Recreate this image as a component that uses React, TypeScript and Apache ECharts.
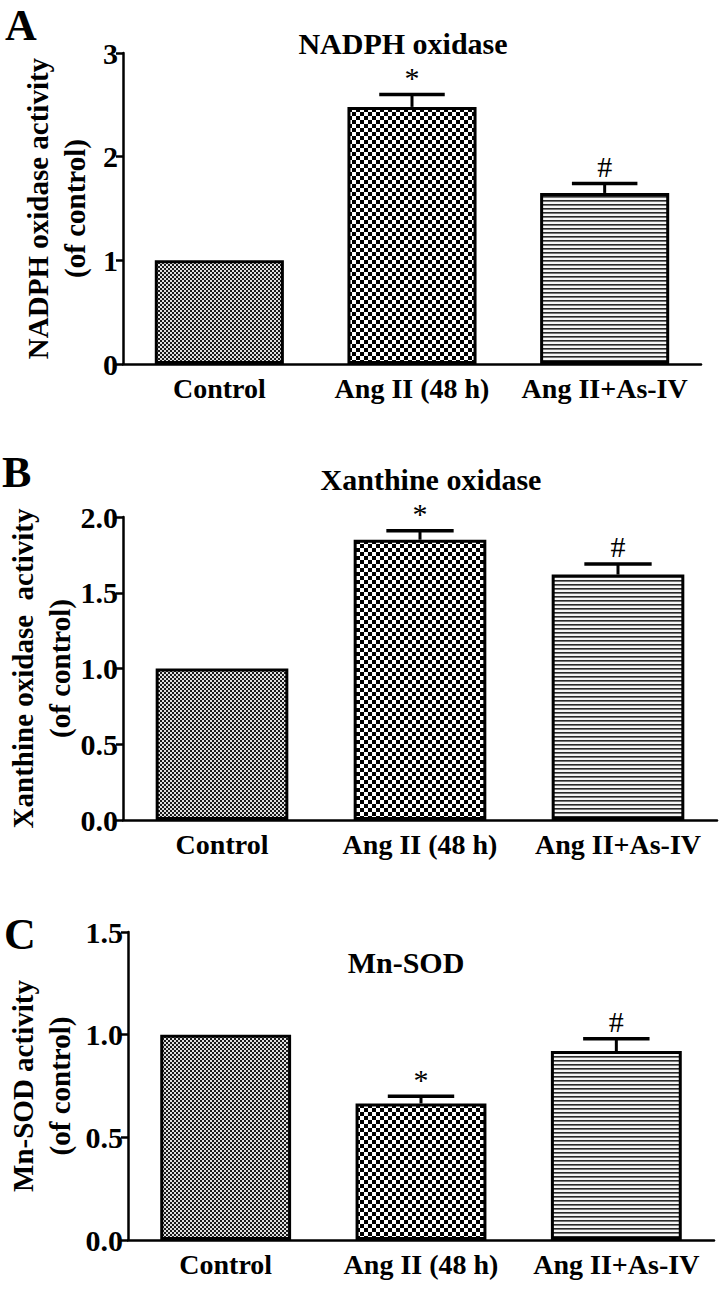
import React, { useEffect, useRef } from "react";
import * as echarts from "echarts";

// ---------- data ----------
const categories = ["Control", "Ang II (48 h)", "Ang II+As-IV"];
const nadphValues = [1.0, 2.48, 1.65];
const nadphErrors = [0, 0.12, 0.09];
const xanthineValues = [1.0, 1.85, 1.62];
const xanthineErrors = [0, 0.06, 0.07];
const mnsodValues = [1.0, 0.665, 0.92];
const mnsodErrors = [0, 0.035, 0.06];
const markers = ["", "*", "#"];
const panelLetters = ["A", "B", "C"];
const panelTitles = ["NADPH oxidase", "Xanthine oxidase", "Mn-SOD"];
const yNames = [
  "NADPH oxidase activity\n(of control)",
  "Xanthine oxidase  activity\n(of control)",
  "Mn-SOD activity\n(of control)",
];
const yMax = [3, 2, 1.5];
const yInterval = [1, 0.5, 0.5];
const yDecimals = [0, 1, 1];

const FONT = "'Liberation Serif', 'Times New Roman', serif";

// ---------- layout ----------
const grids = [
  { left: 123, top: 53, width: 578, height: 311 },
  { left: 123, top: 517, width: 594, height: 303 },
  { left: 128, top: 932, width: 586, height: 308 },
];
const titlePos = [
  { x: 403, y: 28 },
  { x: 431, y: 464 },
  { x: 406, y: 947 },
];
const letterPos = [
  { x: 5, y: 3 },
  { x: 2, y: 450 },
  { x: 4, y: 912 },
];
const nameGaps = [30, 45, 50];

function makePattern(kind: string) {
  const c = document.createElement("canvas");
  const ctx = c.getContext("2d")!;
  if (kind === "fine") {
    c.width = 4;
    c.height = 4;
    ctx.fillStyle = "#e0e0e0";
    ctx.fillRect(0, 0, 4, 4);
    ctx.fillStyle = "#1a1a1a";
    ctx.fillRect(0, 0, 2, 2);
    ctx.fillRect(2, 2, 2, 2);
  } else if (kind === "coarse") {
    c.width = 8;
    c.height = 8;
    ctx.fillStyle = "#ffffff";
    ctx.fillRect(0, 0, 8, 8);
    ctx.fillStyle = "#000";
    ctx.fillRect(0, 0, 4, 4);
    ctx.fillRect(4, 4, 4, 4);
  } else {
    c.width = 4;
    c.height = 4;
    ctx.fillStyle = "#f6f6f6";
    ctx.fillRect(0, 0, 4, 4);
    ctx.fillStyle = "#2a2a2a";
    ctx.fillRect(0, 0, 4, 1);
    ctx.fillStyle = "#777";
    ctx.fillRect(0, 1, 4, 1);
  }
  return { image: c, repeat: "repeat", imageWidth: c.width, imageHeight: c.height } as any;
}

export default function App() {
  const ref = useRef<HTMLDivElement>(null);
  useEffect(() => {
    if (!ref.current) return;
    const chart = echarts.init(ref.current, null, { renderer: "svg" });
    const patterns = [makePattern("fine"), makePattern("coarse"), makePattern("stripes")];
    const valueSets = [nadphValues, xanthineValues, mnsodValues];
    const errorSets = [nadphErrors, xanthineErrors, mnsodErrors];

    const titles: any[] = [];
    const xAxes: any[] = [];
    const yAxes: any[] = [];
    const series: any[] = [];

    for (let p = 0; p < 3; p++) {
      titles.push({
        text: panelLetters[p],
        left: letterPos[p].x,
        top: letterPos[p].y,
        padding: 0,
        textStyle: { fontFamily: FONT, fontWeight: "bold", fontSize: 44, color: "#000" },
      });
      titles.push({
        text: panelTitles[p],
        left: titlePos[p].x,
        top: titlePos[p].y,
        textAlign: "center",
        padding: 0,
        textStyle: { fontFamily: FONT, fontWeight: "bold", fontSize: 30, color: "#000", lineHeight: 30 },
      });
      xAxes.push({
        type: "category",
        gridIndex: p,
        data: categories,
        axisLine: { lineStyle: { color: "#000", width: 2.5 } },
        axisTick: { alignWithLabel: true, length: 7, lineStyle: { color: "#000", width: 2.5 } },
        axisLabel: { fontFamily: FONT, fontWeight: "bold", fontSize: 28, color: "#000", margin: 10, interval: 0 },
      });
      const dec = yDecimals[p];
      yAxes.push({
        type: "value",
        gridIndex: p,
        min: 0,
        max: yMax[p],
        interval: yInterval[p],
        name: yNames[p],
        nameLocation: "middle",
        nameRotate: 90,
        nameGap: nameGaps[p],
        nameMoveOverlap: false,
        nameTextStyle: { fontFamily: FONT, fontWeight: "bold", fontSize: 29, color: "#000", lineHeight: 37 },
        axisLine: { show: true, lineStyle: { color: "#000", width: 2.5 } },
        axisTick: { show: true, length: 7, lineStyle: { color: "#000", width: 2.5 } },
        splitLine: { show: false },
        axisLabel: {
          fontFamily: FONT,
          fontWeight: "bold",
          fontSize: 30,
          color: "#000",
          margin: 5,
          formatter: (v: number) => v.toFixed(dec),
        },
      });
      const vals = valueSets[p];
      const errs = errorSets[p];
      series.push({
        type: "bar",
        xAxisIndex: p,
        yAxisIndex: p,
        barWidth: "67%",
        data: vals.map((v, i) => ({
          value: v,
          itemStyle: { color: patterns[i], borderColor: "#000", borderWidth: 3 },
        })),
      });
      series.push({
        type: "custom",
        xAxisIndex: p,
        yAxisIndex: p,
        z: 5,
        data: vals.map((v, i) => [i, v, errs[i]]),
        renderItem: (params: any, api: any) => {
          const i = api.value(0);
          const v = api.value(1);
          const e = api.value(2);
          const top = api.coord([i, v + e]);
          const base = api.coord([i, v]);
          const bandW = api.size([1, 0])[0];
          const half = bandW * 0.17;
          const children: any[] = [];
          if (e > 0) {
            children.push({
              type: "line",
              shape: { x1: top[0], y1: base[1], x2: top[0], y2: top[1] },
              style: { stroke: "#000", lineWidth: 3 },
            });
            children.push({
              type: "line",
              shape: { x1: top[0] - half, y1: top[1], x2: top[0] + half, y2: top[1] },
              style: { stroke: "#000", lineWidth: 3.5 },
            });
          }
          const m = markers[i];
          if (m) {
            children.push({
              type: "text",
              x: top[0],
              y: top[1] - 6,
              style: {
                text: m,
                fontFamily: FONT,
                fontSize: 30,
                lineHeight: 22,
                fill: "#000",
                align: "center",
                verticalAlign: "bottom",
              },
            });
          }
          return { type: "group", children };
        },
      });
    }

    chart.setOption({
      animation: false,
      backgroundColor: "#fff",
      title: titles,
      grid: grids.map((g) => ({ ...g, containLabel: false, outerBoundsMode: "none" })),
      xAxis: xAxes,
      yAxis: yAxes,
      series,
    });
    return () => chart.dispose();
  }, []);
  return (
    <div
      ref={ref}
      style={{ position: "absolute", left: 0, top: 0, width: 724, height: 1289, background: "#fff" }}
    />
  );
}
